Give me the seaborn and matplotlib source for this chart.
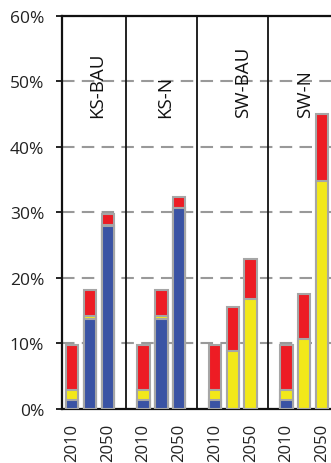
import pandas as pd
import seaborn as sns
import matplotlib.pyplot as plt
from matplotlib.ticker import PercentFormatter

# scenarios and years (middle year has no tick label in the original)
scenarios = ['KS-BAU', 'KS-N', 'SW-BAU', 'SW-N']
years = ['2010', '2030', '2050']

# shares in % (stacked: blue bottom, yellow middle, red top)
blue = [1.4, 13.7, 27.9,
        1.4, 13.7, 30.7,
        1.4, 0.0, 0.0,
        1.4, 0.0, 0.0]
yellow = [1.5, 0.5, 0.1,
          1.5, 0.5, 0.0,
          1.5, 8.9, 16.7,
          1.5, 10.6, 34.8]
red = [6.9, 3.9, 1.7,
       6.9, 3.9, 1.7,
       6.9, 6.6, 6.2,
       6.9, 6.9, 10.2]

rows = []
i = 0
for s in scenarios:
    for y in years:
        rows.append({'slot': s + ' ' + y, 'year': y,
                     'blue': blue[i], 'yellow': yellow[i], 'red': red[i]})
        i += 1
df = pd.DataFrame(rows)
df['c_blue'] = df['blue']
df['c_yellow'] = df['blue'] + df['yellow']
df['c_red'] = df['c_yellow'] + df['red']

# category order with an empty slot between scenarios
order = []
for k, s in enumerate(scenarios):
    order += [s + ' ' + y for y in years]
    if k < len(scenarios) - 1:
        order.append('gap%d' % k)

sns.set_style('white')
plt.rcParams['font.family'] = ['Open Sans', 'DejaVu Sans']

fig = plt.figure(figsize=(3.31, 4.64), dpi=100)
ax = fig.add_axes([0.188, 0.1164, 0.812, 0.848])

edge = '#a6a6a6'
for col, colour in [('c_red', '#ed1c24'), ('c_yellow', '#f2e81a'), ('c_blue', '#3a53a4')]:
    sns.barplot(data=df, x='slot', y=col, order=order, color=colour, saturation=1,
                width=0.7, edgecolor=edge, linewidth=1.5, ax=ax, zorder=3)

ax.set_ylim(0, 60)
ax.set_xlim(-0.55, 14.5)
ax.set_yticks(range(0, 61, 10))
ax.yaxis.set_major_formatter(PercentFormatter(decimals=0))
ax.yaxis.grid(True, color='#999999', linestyle=(0, (6, 3.5)), linewidth=1.5, zorder=0)
ax.set_axisbelow(True)

# year ticks only for first and last year of each scenario
pos = []
labs = []
for k in range(len(scenarios)):
    pos += [4 * k, 4 * k + 2]
    labs += ['2010', '2050']
ax.set_xticks(pos)
ax.set_xticklabels(labs, rotation=90, fontsize=12, color='#222222')
ax.tick_params(axis='x', length=0, pad=10)
ax.tick_params(axis='y', length=4, width=1.2, color='black', labelsize=12.5,
               labelcolor='#222222', pad=9, left=True)
ax.set_xlabel('')
ax.set_ylabel('')

for sp in ['left', 'bottom', 'top']:
    ax.spines[sp].set_color('#111111')
    ax.spines[sp].set_linewidth(1.6)
ax.spines['right'].set_visible(False)

# scenario separators and names
for xd in [3, 7, 11]:
    ax.axvline(xd, color='#111111', linewidth=1.3, zorder=4)
name_x = [1.38, 5.2, 9.57, 13.05]
for s, xn in zip(scenarios, name_x):
    ax.text(xn, 44.6, s, rotation=90, ha='center', va='bottom', fontsize=13.5, color='#111111')

plt.savefig('out.png', dpi=100)
